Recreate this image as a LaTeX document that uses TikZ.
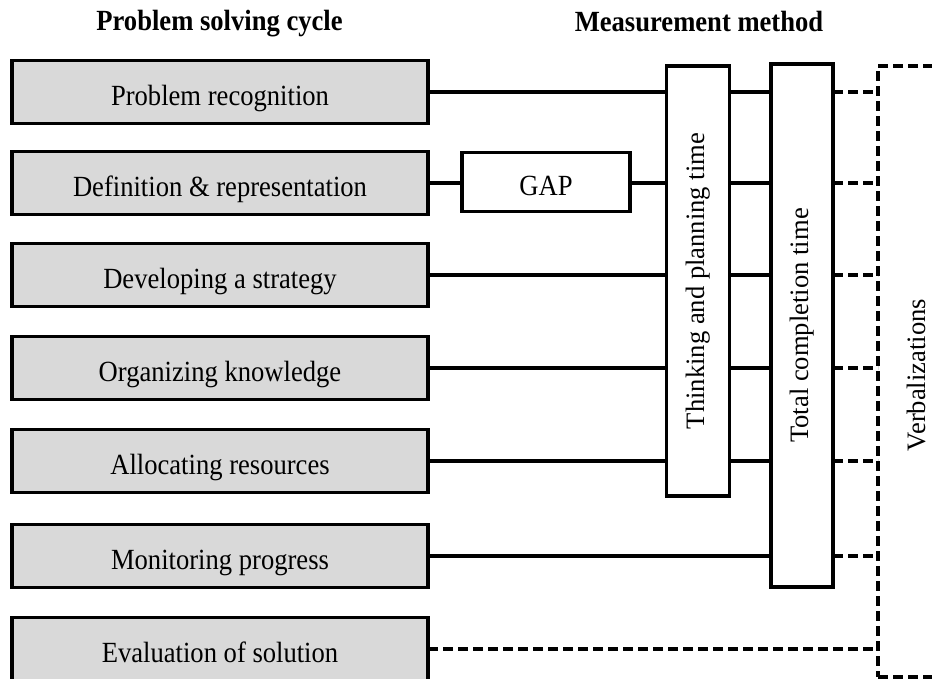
\documentclass[tikz,border=0pt]{standalone}
\usepackage{fontspec}
\setmainfont{Liberation Serif}
\newcommand{\tallt}[1]{\scalebox{1}[1.1]{#1}}
\begin{document}
\begin{tikzpicture}[x=1pt,y=-1pt,
  every node/.style={font=\fontsize{26.6}{30}\selectfont, inner sep=0pt, outer sep=0pt},
  stage/.style={draw=black, line width=3.6pt, fill=gray!30, minimum width=416pt, minimum height=63pt, text height=26pt, text depth=0pt},
  whitebox/.style={draw=black, line width=3.6pt, fill=white},
  title/.style={font=\fontsize{26.6}{30}\selectfont\bfseries, anchor=base},
  conn/.style={line width=3.3pt},
  dconn/.style={line width=3.6pt, dash pattern=on 10pt off 5pt},
]
\useasboundingbox (0,0) rectangle (932,678);
\clip (0,0) rectangle (932,678);

\node[title] (t1) at (219.5,30) {\tallt{Problem solving cycle}};
\node[title] (t2) at (699,31) {\tallt{Measurement method}};

\node[stage] (r1) at (220,92) {\tallt{Problem recognition}};
\node[stage] (r2) at (220,183) {\tallt{Definition \& representation}};
\node[stage] (r3) at (220,275) {\tallt{Developing a strategy}};
\node[stage] (r4) at (220,368) {\tallt{Organizing knowledge}};
\node[stage] (r5) at (220,461) {\tallt{Allocating resources}};
\node[stage] (r6) at (220,556) {\tallt{Monitoring progress}};
\node[stage] (r7) at (220,649) {\tallt{Evaluation of solution}};

\node[whitebox, minimum width=168pt, minimum height=59pt, text height=26pt, text depth=0pt] (gap) at (546,182) {\tallt{GAP}};

\node[whitebox, minimum width=63pt, minimum height=430pt] (think) at (698,281) {};
\node[rotate=90] (thinkt) at (698,281) {Thinking and planning time};
\node[whitebox, minimum width=62pt, minimum height=523pt] (tot) at (802,325.5) {};
\node[rotate=90] (tott) at (802,325.5) {Total completion time};

\node[draw=black, dconn, minimum width=112pt, minimum height=611pt] (verb) at (934,371.5) {};
\node[rotate=90] (verbt) at (916,375) {Verbalizations};

% row connectors
\foreach \r in {r1,r3,r4,r5}{
  \draw[conn] (\r.east) -- (think.west |- \r.east);
}
\draw[conn] (r2.east) -- (gap.west |- r2.east);
\draw[conn] (gap.east |- r2.east) -- (think.west |- r2.east);
\foreach \r in {r1,r2,r3,r4,r5}{
  \draw[conn] (think.east |- \r.east) -- (tot.west |- \r.east);
}
\draw[conn] (r6.east) -- (tot.west |- r6.east);
\foreach \r in {r1,r2,r3,r4,r5,r6}{
  \draw[dconn] (tot.east |- \r.east) -- (verb.west |- \r.east);
}
\draw[dconn] (r7.east) -- (verb.west |- r7.east);
\end{tikzpicture}
\end{document}
